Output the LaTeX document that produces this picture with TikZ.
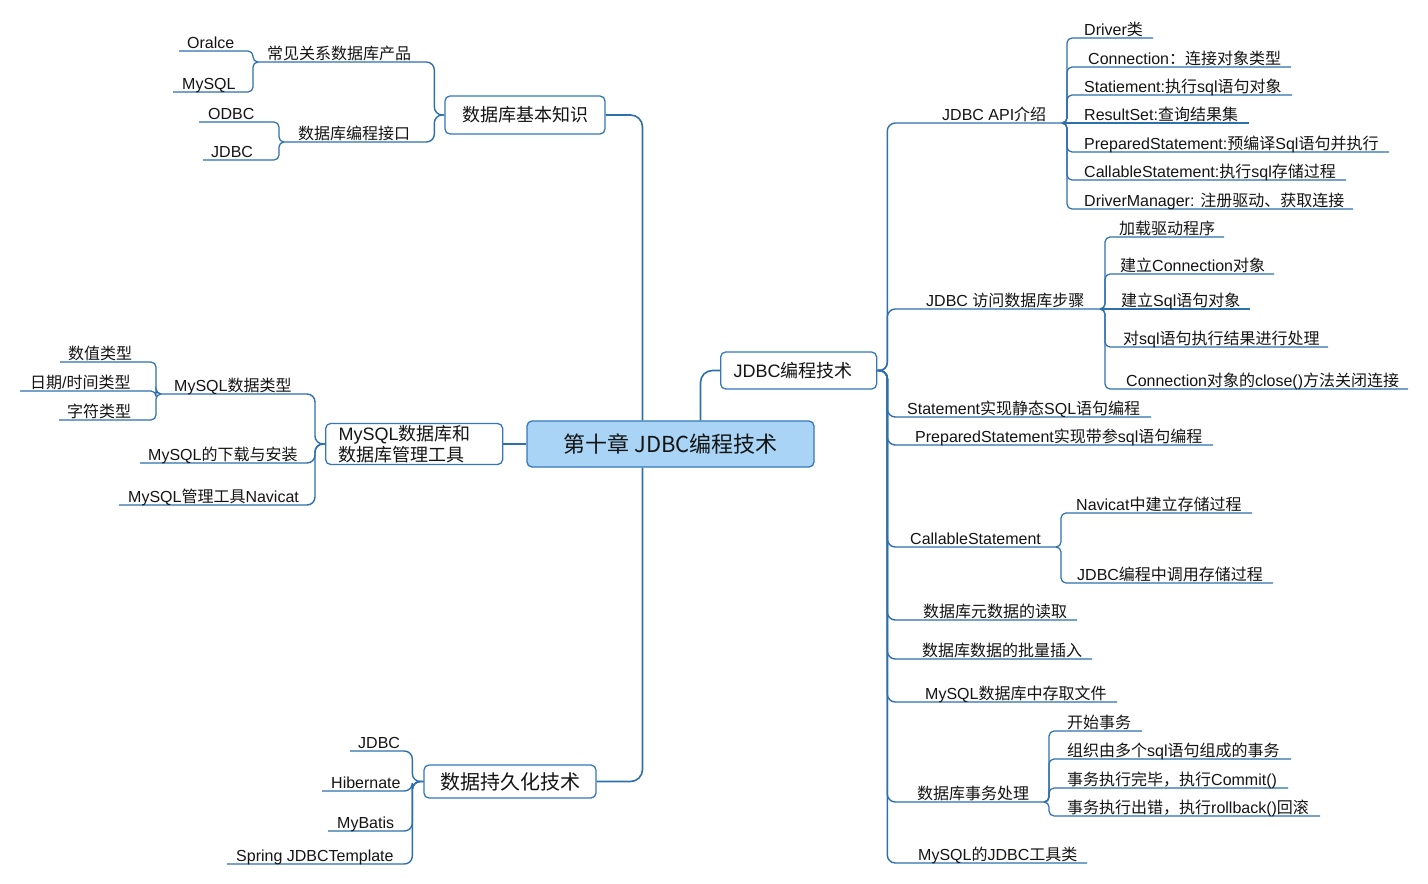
\documentclass[tikz,border=0pt]{standalone}
\usepackage{fontspec}
\setmainfont{Liberation Sans}
\newfontfamily\cjkfont{Noto Sans CJK SC}
\newcount\cjkcnt
\XeTeXinterchartokenstate=1
\newXeTeXintercharclass\CJKcls
\def\setcjkrange#1#2{\cjkcnt=#1\relax\loop\XeTeXcharclass\cjkcnt=\CJKcls\relax\ifnum\cjkcnt<#2\relax\advance\cjkcnt by 1\relax\repeat}
\setcjkrange{"3000}{"303F}
\setcjkrange{"4E00}{"9FFF}
\setcjkrange{"FF00}{"FFEF}
\XeTeXinterchartoks 0 \CJKcls = {\cjkfont}
\XeTeXinterchartoks 4095 \CJKcls = {\cjkfont}
\XeTeXinterchartoks \CJKcls 0 = {\rmfamily}
\definecolor{lc}{RGB}{46,112,172}
\definecolor{bc}{RGB}{52,120,186}
\definecolor{rootfill}{RGB}{169,212,246}
\definecolor{txt}{RGB}{20,20,20}
\begin{document}
\begin{tikzpicture}[x=1pt,y=-1pt,
 lbl/.style={anchor=base west, inner sep=0pt, text=txt, font=\fontsize{16}{19}\selectfont},
 bx/.style={draw=bc, line width=1.3pt, rounded corners=5pt, fill=white, text=txt, inner sep=0pt},
 c1/.style={draw=lc, line width=1.6pt, rounded corners=12pt},
 c2/.style={draw=lc, line width=1.4pt, rounded corners=8pt},
 c3/.style={draw=lc, line width=1.2pt, rounded corners=5pt}]
\useasboundingbox[fill=white] (0,0) rectangle (1428,884);

% ---------- main boxes ----------
\node[bx, fill=rootfill, minimum width=287pt, minimum height=46pt, font=\fontsize{22}{26}\selectfont] (root) at (670.5,444) {第十章 JDBC编程技术};
\node[bx, anchor=west, text width=130pt, inner xsep=13pt, minimum height=37pt, align=left, font=\fontsize{18}{21}\selectfont] (jb) at (720,370.5) {JDBC编程技术};
\node[bx, minimum width=160pt, minimum height=38pt, font=\fontsize{18}{21}\selectfont] (kb) at (525,115) {数据库基本知识};
\node[bx, anchor=west, text width=151pt, inner xsep=13pt, minimum height=41pt, align=left, font=\fontsize{18}{21}\selectfont] (mb) at (325,444) {MySQL数据库和\\数据库管理工具};
\node[bx, minimum width=172pt, minimum height=33pt, font=\fontsize{20}{24}\selectfont] (pb) at (510,781.5) {数据持久化技术};

% ---------- root connectors ----------
\draw[c1] (kb.east) -| ([xshift=-28pt]root.north);
\draw[c1] ([xshift=30pt]root.north) |- (jb.west);
\draw[c1] (root.west) -- (mb.east);
\draw[c1] ([xshift=-28pt]root.south) |- (pb.east);

% ---------- JDBC编程技术 branch ----------
\coordinate (jt) at ([xshift=10pt]jb.east);
\coordinate (e-api) at (1062,123);
\coordinate (e-steps) at (1100,309);
\coordinate (e-st) at (1151,417);
\coordinate (e-ps) at (1213,445);
\coordinate (e-call) at (1056,547);
\coordinate (e-meta) at (1077,620);
\coordinate (e-batch) at (1092,659);
\coordinate (e-file) at (1117,702);
\coordinate (e-tx) at (1044,802);
\coordinate (e-util) at (1087,863);
\foreach \e in {e-api,e-steps,e-st,e-ps,e-call,e-meta,e-batch,e-file,e-tx,e-util}
  \draw[c2] (jb.east) -- (jt) |- (\e);

\node[lbl] (t-api) at (942,120) {JDBC API介绍};
\node[lbl] (t-steps) at (926,306) {JDBC 访问数据库步骤};
\node[lbl] (t-st) at (907,414) {Statement实现静态SQL语句编程};
\node[lbl] (t-ps) at (915,442) {PreparedStatement实现带参sql语句编程};
\node[lbl] (t-call) at (910,544) {CallableStatement};
\node[lbl] (t-meta) at (923,617) {数据库元数据的读取};
\node[lbl] (t-batch) at (922,656) {数据库数据的批量插入};
\node[lbl] (t-file) at (925,699) {MySQL数据库中存取文件};
\node[lbl] (t-tx) at (917,799) {数据库事务处理};
\node[lbl] (t-util) at (918,860) {MySQL的JDBC工具类};

% JDBC API children
\coordinate (aj) at (1067,123);
\coordinate (d1) at (1153,38);
\coordinate (d2) at (1291,67);
\coordinate (d3) at (1292,95);
\coordinate (d4) at (1249,123);
\coordinate (d5) at (1389,152);
\coordinate (d6) at (1346,180);
\coordinate (d7) at (1353,209);
\foreach \d in {d1,d2,d3,d5,d6,d7}
  \draw[c3] (e-api) -- (aj) |- (\d);
\draw[c3] (e-api) -- (d4);
\node[lbl] (t-d1) at (1084,35) {Driver类};
\node[lbl] (t-d2) at (1088,64) {Connection：连接对象类型};
\node[lbl] (t-d3) at (1084,92) {Statiement:执行sql语句对象};
\node[lbl] (t-d4) at (1084,120) {ResultSet:查询结果集};
\node[lbl] (t-d5) at (1084,149) {PreparedStatement:预编译Sql语句并执行};
\node[lbl] (t-d6) at (1084,177) {CallableStatement:执行sql存储过程};
\node[lbl] (t-d7) at (1084,206) {DriverManager: 注册驱动、获取连接};

% steps children
\coordinate (sj) at (1105,309);
\coordinate (s1) at (1224,237);
\coordinate (s2) at (1274,274);
\coordinate (s3) at (1250,309);
\coordinate (s4) at (1328,347);
\coordinate (s5) at (1408,389);
\foreach \s in {s1,s2,s4,s5}
  \draw[c3] (e-steps) -- (sj) |- (\s);
\draw[c3] (e-steps) -- (s3);
\node[lbl] (t-s1) at (1119,234) {加载驱动程序};
\node[lbl] (t-s2) at (1120,271) {建立Connection对象};
\node[lbl] (t-s3) at (1121,306) {建立Sql语句对象};
\node[lbl] (t-s4) at (1123,344) {对sql语句执行结果进行处理};
\node[lbl] (t-s5) at (1126,386) {Connection对象的close()方法关闭连接};

% CallableStatement children
\coordinate (cj) at (1061,547);
\coordinate (c1e) at (1252,513);
\coordinate (c2e) at (1273,583);
\foreach \c in {c1e,c2e}
  \draw[c3] (e-call) -- (cj) |- (\c);
\node[lbl] (t-c1) at (1076,510) {Navicat中建立存储过程};
\node[lbl] (t-c2) at (1077,580) {JDBC编程中调用存储过程};

% transaction children
\coordinate (xj) at (1049,802);
\coordinate (x1) at (1142,731);
\coordinate (x2) at (1291,759);
\coordinate (x3) at (1288,788);
\coordinate (x4) at (1320,816);
\foreach \x in {x1,x2,x3,x4}
  \draw[c3] (e-tx) -- (xj) |- (\x);
\node[lbl] (t-x1) at (1067,728) {开始事务};
\node[lbl] (t-x2) at (1067,756) {组织由多个sql语句组成的事务};
\node[lbl] (t-x3) at (1067,785) {事务执行完毕，执行Commit()};
\node[lbl] (t-x4) at (1067,813) {事务执行出错，执行rollback()回滚};

% ---------- 数据库基本知识 branch ----------
\coordinate (kj) at ([xshift=-10pt]kb.west);
\coordinate (e-prod) at (258,62);
\coordinate (e-intf) at (284,142);
\foreach \e in {e-prod,e-intf}
  \draw[c2] (kb.west) -- (kj) |- (\e);
\node[lbl] (t-prod) at (267,59) {常见关系数据库产品};
\node[lbl] (t-intf) at (298,139) {数据库编程接口};
\coordinate (pj) at (253,62);
\coordinate (p1) at (179,51);
\coordinate (p2) at (173,92);
\foreach \p in {p1,p2}
  \draw[c3] (e-prod) -- (pj) |- (\p);
\node[lbl] (t-p1) at (187,48) {Oralce};
\node[lbl] (t-p2) at (182,89) {MySQL};
\coordinate (ij) at (279,142);
\coordinate (i1) at (199,122);
\coordinate (i2) at (203,160);
\foreach \i in {i1,i2}
  \draw[c3] (e-intf) -- (ij) |- (\i);
\node[lbl] (t-i1) at (208,119) {ODBC};
\node[lbl] (t-i2) at (211,157) {JDBC};

% ---------- MySQL branch ----------
\coordinate (mj) at ([xshift=-10pt]mb.west);
\coordinate (e-type) at (161,394);
\coordinate (e-dl) at (140,463);
\coordinate (e-nav) at (119,505);
\foreach \e in {e-type,e-dl,e-nav}
  \draw[c2] (mb.west) -- (mj) |- (\e);
\node[lbl] (t-type) at (174,391) {MySQL数据类型};
\node[lbl] (t-dl) at (148,460) {MySQL的下载与安装};
\node[lbl] (t-nav) at (128,502) {MySQL管理工具Navicat};
\coordinate (yj) at (156,394);
\coordinate (y1) at (60,362);
\coordinate (y2) at (20,391);
\coordinate (y3) at (59,420);
\foreach \y in {y1,y2,y3}
  \draw[c3] (e-type) -- (yj) |- (\y);
\node[lbl] (t-y1) at (68,359) {数值类型};
\node[lbl] (t-y2) at (30,388) {日期/时间类型};
\node[lbl] (t-y3) at (67,417) {字符类型};

% ---------- 数据持久化技术 branch ----------
\coordinate (qj) at ([xshift=-11pt]pb.west);
\coordinate (q1) at (350,751);
\coordinate (q2) at (322,791);
\coordinate (q3) at (328,831);
\coordinate (q4) at (227,864);
\foreach \q in {q1,q2,q3,q4}
  \draw[c2] (pb.west) -- (qj) |- (\q);
\node[lbl] (t-q1) at (358,748) {JDBC};
\node[lbl] (t-q2) at (331,788) {Hibernate};
\node[lbl] (t-q3) at (337,828) {MyBatis};
\node[lbl] (t-q4) at (236,861) {Spring JDBCTemplate};
\end{tikzpicture}
\end{document}
